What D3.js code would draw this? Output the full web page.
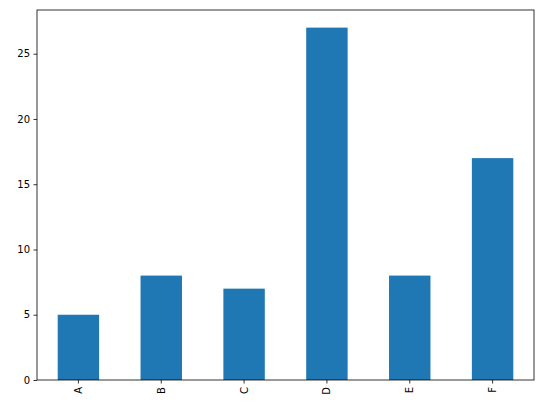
<!DOCTYPE html>
<html><head><meta charset="utf-8">
<script src="https://cdn.jsdelivr.net/npm/d3@7"></script>
<style>body{margin:0;background:#fff}text{font-family:"DejaVu Sans",sans-serif}</style>
</head><body><svg id="c" width="543" height="410"></svg>
<script>
const categories = ["A","B","C","D","E","F"];
const values = [5,8,7,27,8,17];
const yTicks = [0,5,10,15,20,25];

const m = {left:37, right:534, top:10, bottom:380};
const svg = d3.select("#c");
const x = d3.scaleBand().domain(categories).range([m.left, m.right]).paddingInner(0.5).paddingOuter(0.25);
const y = d3.scaleLinear().domain([0, 27*1.05]).range([m.bottom, m.top]);

svg.append("g").selectAll("rect").data(values).join("rect")
  .attr("x", (d,i)=>x(categories[i])).attr("width", x.bandwidth())
  .attr("y", d=>y(d)).attr("height", d=>y(0)-y(d)).attr("fill", "#1f77b4");

const yAxis = svg.append("g").attr("transform", `translate(${m.left},0)`)
  .call(d3.axisLeft(y).tickValues(yTicks).tickSize(3.5).tickPadding(3.5));
const xAxis = svg.append("g").attr("transform", `translate(0,${m.bottom})`)
  .call(d3.axisBottom(x).tickSize(3.5).tickPadding(3.5));
[yAxis, xAxis].forEach(a=>{a.select(".domain").remove();a.selectAll("text").attr("font-size",10).attr("fill","#000").attr("font-family","DejaVu Sans");a.selectAll("line").attr("stroke","#000").attr("stroke-width",0.8);});
xAxis.selectAll("text").attr("transform","rotate(-90)").attr("text-anchor","end").attr("dy","0.35em").attr("x",-7).attr("y",0);

svg.append("rect").attr("x",m.left).attr("y",m.top).attr("width",m.right-m.left).attr("height",m.bottom-m.top)
  .attr("fill","none").attr("stroke","#000").attr("stroke-width",0.8);
</script></body></html>
